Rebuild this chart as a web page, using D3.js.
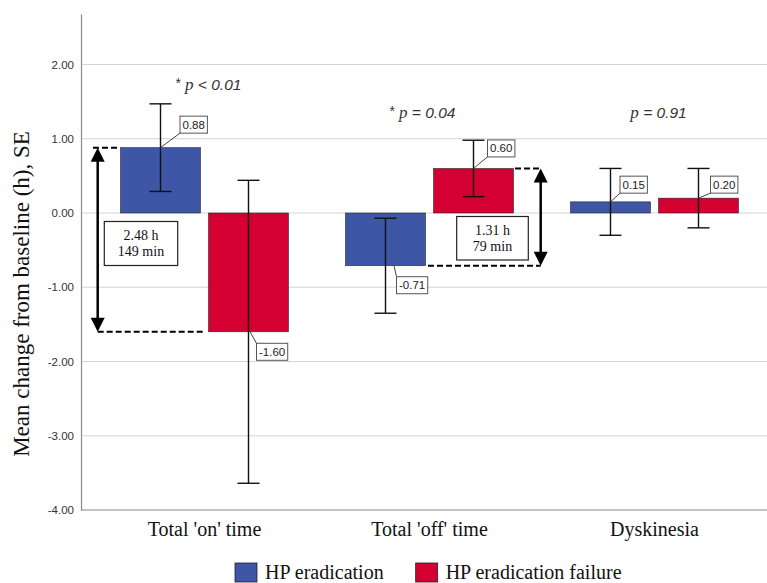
<!DOCTYPE html>
<html>
<head>
<meta charset="utf-8">
<script src="https://cdn.jsdelivr.net/npm/d3@7"></script>
<style>
  html, body { margin: 0; padding: 0; background: #fff; }
  svg { display: block; }
</style>
</head>
<body>
<script>
// ---------- data ----------
const categories = ["Total 'on' time", "Total 'off' time", "Dyskinesia"];
const series = ["HP eradication", "HP eradication failure"];
const eradicationMean = [0.88, -0.71, 0.15];
const eradicationSE   = [0.59, 0.64, 0.45];
const failureMean     = [-1.60, 0.60, 0.20];
const failureSE       = [2.04, 0.38, 0.40];
const pStars  = ["*", "*", ""];
const pOps    = [" < 0.01", " = 0.04", " = 0.91"];
const pLabelValue = [1.66, 1.28, 1.28];
const yTicks = [2, 1, 0, -1, -2, -3, -4];
const diffCategory = [0, 1];
const diffHours = ["2.48 h", "1.31 h"];
const diffMinutes = ["149 min", "79 min"];

// ---------- layout ----------
const W = 767, H = 583;
const colors = ["#3d56a6", "#d50032"];
const serif = "'Liberation Serif', 'Times New Roman', serif";
const sans = "'Liberation Sans', Arial, sans-serif";
// label offsets (box corner relative to bar end), per category per series
const labelLayout = [
  [{dx: 19.5, dy: -14.5, sx: 0}, {dx: 8, dy: 11.5, sx: 1.5}],
  [{dx: 11, dy: 11, sx: 8.5},  {dx: 14, dy: -11.5, sx: 0}],
  [{dx: 9.5, dy: -8.7, sx: 0},  {dx: 12, dy: -5, sx: 0}]
];

const svg = d3.select("body").append("svg").attr("width", W).attr("height", H);

const axisX = 81;
const y = d3.scaleLinear().domain([-4, 2.68]).range([510, 14]);
const x0 = d3.scaleBand().domain(categories).range([92, 767]).paddingInner(0);
const x1 = d3.scaleBand().domain(series)
  .range([x0.bandwidth() / 2 - 84, x0.bandwidth() / 2 + 84])
  .paddingInner(8 / 88).paddingOuter(0);

const means = [eradicationMean, failureMean];
const ses = [eradicationSE, failureSE];

// gridlines
svg.append("g").selectAll("line").data(yTicks.filter(t => t !== -4)).join("line")
  .attr("x1", axisX).attr("x2", W)
  .attr("y1", d => y(d)).attr("y2", d => y(d))
  .attr("stroke", "#d4d4d4").attr("stroke-width", 1);

// y axis
const yAxis = svg.append("g").attr("transform", `translate(${axisX},0)`)
  .call(d3.axisLeft(y).tickValues(yTicks).tickFormat(d => d.toFixed(2)).tickSize(0).tickSizeOuter(0).tickPadding(7));
yAxis.select(".domain").attr("stroke", "#8a8a8a").attr("stroke-width", 1.2);
yAxis.selectAll("text").attr("font-family", sans).attr("font-size", 11.5).attr("fill", "#333");

// x axis
svg.append("line").attr("x1", axisX).attr("x2", W).attr("y1", y(-4)).attr("y2", y(-4))
  .attr("stroke", "#8a8a8a").attr("stroke-width", 1.2);
const xAxis = svg.append("g").attr("transform", `translate(0,${y(-4)})`)
  .call(d3.axisBottom(x0).tickSize(0).tickPadding(12));
xAxis.select(".domain").remove();
xAxis.selectAll("text").attr("font-family", serif).attr("font-size", 20).attr("fill", "#111");

// y title
svg.append("text")
  .attr("transform", `translate(29,294) rotate(-90)`)
  .attr("text-anchor", "middle")
  .attr("font-family", serif).attr("font-size", 23).attr("fill", "#111")
  .text("Mean change from baseline (h), SE");

// bars
const rows = [];
categories.forEach((c, i) => series.forEach((s, j) => rows.push({c, i, s, j, v: means[j][i], se: ses[j][i]})));
const cx = d => x0(d.c) + x1(d.s) + x1.bandwidth() / 2;

svg.append("g").selectAll("rect").data(rows).join("rect")
  .attr("x", d => x0(d.c) + x1(d.s))
  .attr("width", x1.bandwidth())
  .attr("y", d => y(Math.max(0, d.v)))
  .attr("height", d => Math.abs(y(d.v) - y(0)))
  .attr("fill", d => colors[d.j])
  .attr("stroke", "#2a2a2a").attr("stroke-width", 0.6);

// error bars
const eg = svg.append("g").attr("stroke", "#111").attr("stroke-width", 1.4);
rows.forEach(d => {
  const xc = cx(d);
  eg.append("line").attr("x1", xc).attr("x2", xc).attr("y1", y(d.v + d.se)).attr("y2", y(d.v - d.se));
  eg.append("line").attr("x1", xc - 11).attr("x2", xc + 11).attr("y1", y(d.v + d.se)).attr("y2", y(d.v + d.se));
  eg.append("line").attr("x1", xc - 11).attr("x2", xc + 11).attr("y1", y(d.v - d.se)).attr("y2", y(d.v - d.se));
});

// value labels
const lg = svg.append("g");
rows.forEach(d => {
  const L = labelLayout[d.i][d.j];
  const xc = cx(d), ye = y(d.v);
  const t = lg.append("text").attr("font-family", sans).attr("font-size", 11.5).attr("fill", "#222")
    .text(d.v.toFixed(2));
  const tw = t.node().getComputedTextLength();
  const bw = tw + 5, bh = 17;
  const bx = xc + L.dx;
  const by = L.dy < 0 ? ye + L.dy - bh : ye + L.dy;
  const cornerY = L.dy < 0 ? by + bh : by;
  lg.insert("line", "text").attr("x1", xc + L.sx).attr("y1", ye).attr("x2", bx).attr("y2", cornerY)
    .attr("stroke", "#444").attr("stroke-width", 1);
  lg.insert("rect", "text").attr("x", bx).attr("y", by).attr("width", bw).attr("height", bh)
    .attr("fill", "#fff").attr("stroke", "#555").attr("stroke-width", 1);
  t.attr("x", bx + bw / 2).attr("y", by + bh / 2 + 4).attr("text-anchor", "middle");
});

// p-value labels
categories.forEach((c, i) => {
  const t = svg.append("text").attr("x", x0(c) + x0.bandwidth() / 2 + (i === 0 ? 4 : i === 1 ? -7 : 4))
    .attr("y", y(pLabelValue[i])).attr("text-anchor", "middle").attr("fill", "#333")
    .attr("font-style", "italic");
  if (pStars[i]) t.append("tspan").attr("font-family", sans).attr("font-size", 14).attr("font-style", "normal").attr("dy", -2).text(pStars[i]);
  t.append("tspan").attr("font-family", serif).attr("font-size", 17).attr("dx", pStars[i] ? 4 : 0).attr("dy", pStars[i] ? 2 : 0).text("p");
  t.append("tspan").attr("font-family", sans).attr("font-size", 15.5).text(pOps[i]);
});

// difference brackets
const bg = svg.append("g");
function arrow(ax, yTop, yBot) {
  bg.append("line").attr("x1", ax).attr("x2", ax).attr("y1", yTop + 10).attr("y2", yBot - 10)
    .attr("stroke", "#000").attr("stroke-width", 2.5);
  bg.append("path").attr("d", `M${ax},${yTop} L${ax - 7},${yTop + 14} L${ax + 7},${yTop + 14} Z`).attr("fill", "#000");
  bg.append("path").attr("d", `M${ax},${yBot} L${ax - 7},${yBot - 14} L${ax + 7},${yBot - 14} Z`).attr("fill", "#000");
}
function dashed(xa, xb, yy) {
  bg.append("line").attr("x1", xa).attr("x2", xb).attr("y1", yy).attr("y2", yy)
    .attr("stroke", "#000").attr("stroke-width", 2).attr("stroke-dasharray", "6,3");
}
function diffBox(bx, by, bw, bh, l1, l2) {
  bg.append("rect").attr("x", bx).attr("y", by).attr("width", bw).attr("height", bh)
    .attr("fill", "#fff").attr("stroke", "#222").attr("stroke-width", 1.2);
  bg.append("text").attr("x", bx + bw / 2).attr("y", by + bh / 2 - 3).attr("text-anchor", "middle")
    .attr("font-family", serif).attr("font-size", 14).attr("fill", "#111").text(l1);
  bg.append("text").attr("x", bx + bw / 2).attr("y", by + bh / 2 + 13).attr("text-anchor", "middle")
    .attr("font-family", serif).attr("font-size", 14).attr("fill", "#111").text(l2);
}
// on-time bracket (left of group)
{
  const i = diffCategory[0], c = categories[i];
  const blueL = x0(c) + x1(series[0]);
  const redL = x0(c) + x1(series[1]);
  const top = Math.max(eradicationMean[i], failureMean[i]);
  const bot = Math.min(eradicationMean[i], failureMean[i]);
  const ax = blueL - 22.8;
  dashed(ax - 4.7, blueL - 3, y(top));
  dashed(ax, redL - 5.5, y(bot));
  arrow(ax, y(top), y(bot));
  diffBox(ax + 6.6, y(0) + 8.5, 73.4, 44, diffHours[0], diffMinutes[0]);
}
// off-time bracket (right of group)
{
  const i = diffCategory[1], c = categories[i];
  const blueR = x0(c) + x1(series[0]) + x1.bandwidth();
  const redR = x0(c) + x1(series[1]) + x1.bandwidth();
  const top = Math.max(eradicationMean[i], failureMean[i]);
  const bot = Math.min(eradicationMean[i], failureMean[i]);
  const ax = redR + 27.2;
  dashed(redR + 1.5, ax, y(top));
  dashed(blueR + 2.5, ax, y(bot));
  arrow(ax, y(top), y(bot));
  diffBox(ax - 84, y(0) + 3.5, 71.6, 43.5, diffHours[1], diffMinutes[1]);
}

// legend
const leg = svg.append("g");
let lx = 235;
series.forEach((s, j) => {
  leg.append("rect").attr("x", lx).attr("y", 563).attr("width", 22).attr("height", 19)
    .attr("fill", colors[j]).attr("stroke", "#222").attr("stroke-width", 0.8);
  const t = leg.append("text").attr("x", lx + 30).attr("y", 579)
    .attr("font-family", serif).attr("font-size", 20).attr("fill", "#111").text(s);
  lx = lx + 30 + t.node().getComputedTextLength() + 32;
});
</script>
</body>
</html>
